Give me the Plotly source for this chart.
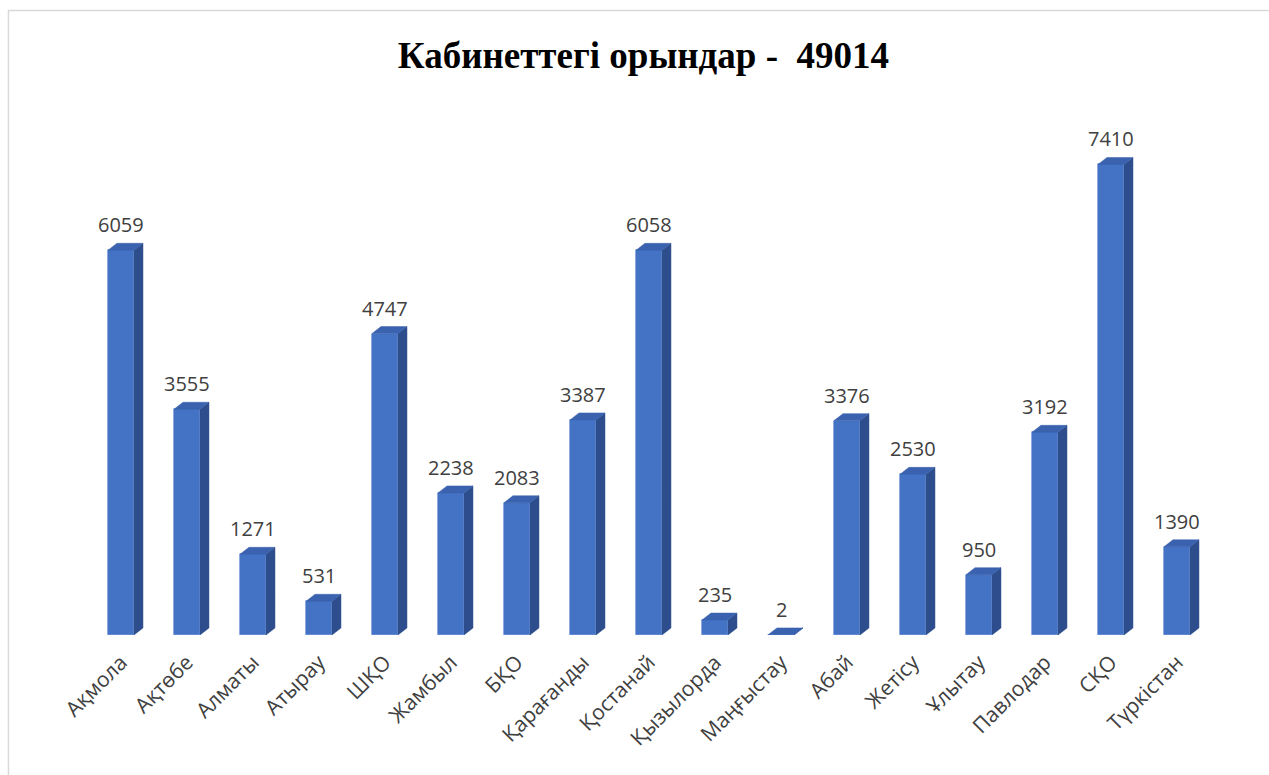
import plotly.graph_objects as go

# Seats in school classrooms by region
regions = ["Ақмола", "Ақтөбе", "Алматы", "Атырау", "ШҚО", "Жамбыл", "БҚО",
           "Қарағанды", "Қостанай", "Қызылорда", "Маңғыстау", "Абай", "Жетісу",
           "Ұлытау", "Павлодар", "СҚО", "Түркістан"]
seats = [6059, 3555, 1271, 531, 4747, 2238, 2083, 3387, 6058, 235, 2,
         3376, 2530, 950, 3192, 7410, 1390]
title_text = "Кабинеттегі орындар -\u00a0 49014"

# pseudo-3D box geometry (in axis units)
BAR_W = 0.394      # width of the front face
DEPTH_X = 0.136    # horizontal offset of the back edge
DEPTH_Y = 110      # vertical offset of the back edge
Y_MAX = 8110

FRONT = "#4472C4"
SIDE = "#2D4D8C"
TOP = "#3A62AE"

xs = list(range(len(regions)))

fig = go.Figure()

# front faces
fig.add_trace(go.Bar(
    x=xs, y=seats, width=BAR_W,
    marker=dict(color=FRONT, line=dict(color="#4F7DD0", width=0.6)),
    hoverinfo="skip", showlegend=False,
))

# side faces
side_x, side_y = [], []
for x, v in zip(xs, seats):
    xr = x + BAR_W / 2
    side_x += [xr, xr + DEPTH_X, xr + DEPTH_X, xr, xr, None]
    side_y += [0, DEPTH_Y, v + DEPTH_Y, v, 0, None]
fig.add_trace(go.Scatter(
    x=side_x, y=side_y, mode="lines", fill="toself",
    fillcolor=SIDE, line=dict(color=SIDE, width=0.5),
    hoverinfo="skip", showlegend=False,
))

# top faces
top_x, top_y = [], []
for x, v in zip(xs, seats):
    xl, xr = x - BAR_W / 2, x + BAR_W / 2
    top_x += [xl, xr, xr + DEPTH_X, xl + DEPTH_X, xl, None]
    top_y += [v, v, v + DEPTH_Y, v + DEPTH_Y, v, None]
fig.add_trace(go.Scatter(
    x=top_x, y=top_y, mode="lines", fill="toself",
    fillcolor=TOP, line=dict(color=TOP, width=0.5),
    hoverinfo="skip", showlegend=False,
))

# value labels above each box
annotations = [
    dict(x=x, y=v + DEPTH_Y, text=str(v), showarrow=False,
         xanchor="center", yanchor="bottom", yshift=3,
         font=dict(family="Open Sans, sans-serif", size=20, color="#404040"))
    for x, v in zip(xs, seats)
]

fig.update_layout(
    width=1269, height=775,
    margin=dict(l=88, r=59, t=120, b=140),
    paper_bgcolor="white", plot_bgcolor="white",
    title=dict(
        text=title_text, x=0.507, xanchor="center", y=0.929, yanchor="middle",
        font=dict(family="Liberation Serif, Times New Roman, serif", size=37,
                  color="black", weight="bold"),
    ),
    xaxis=dict(
        range=[-0.5, len(regions) - 0.5],
        tickmode="array", tickvals=xs, ticktext=regions,
        tickangle=-45, showgrid=False, zeroline=False, showline=False,
        ticks="", ticklabelstandoff=10,
        tickfont=dict(family="Open Sans, sans-serif", size=21, color="#404040"),
    ),
    yaxis=dict(range=[0, Y_MAX], visible=False, showgrid=False, zeroline=False),
    annotations=annotations,
    shapes=[dict(type="rect", xref="paper", yref="paper",
                 x0=-0.0709, x1=1.2, y0=-0.5, y1=1.2126,
                 line=dict(color="#D9D9D9", width=1.5), layer="below")],
    bargap=0,
)

fig.write_html("out.html")
